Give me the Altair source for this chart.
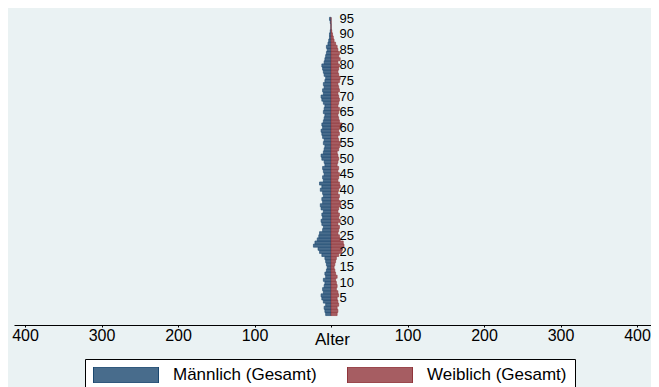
import altair as alt
import pandas as pd

# ---- data ----
ages = list(range(0, 96))
male = [7, 8, 9, 7, 10, 12, 13, 10, 11, 9,
        8, 10, 7, 8, 6, 5, 6, 7, 8, 12,
        15, 17, 23, 21, 18, 16, 15, 11, 10, 12,
        13, 11, 12, 10, 13, 14, 11, 12, 10, 11,
        14, 12, 15, 10, 11, 9, 10, 11, 8, 9,
        12, 13, 10, 9, 8, 10, 9, 11, 12, 13,
        11, 12, 10, 9, 8, 10, 9, 8, 10, 12,
        13, 10, 11, 9, 10, 8, 7, 9, 10, 11,
        12, 9, 8, 7, 6, 5, 6, 4, 3, 2,
        2, 1, 0, 0, 1, 2]
female = [8, 9, 8, 10, 9, 8, 10, 9, 7, 8,
          7, 6, 8, 6, 5, 4, 5, 6, 7, 10,
          14, 15, 17, 16, 12, 11, 9, 10, 11, 9,
          12, 10, 11, 9, 10, 13, 12, 10, 11, 9,
          10, 12, 11, 9, 10, 11, 9, 10, 8, 9,
          10, 9, 8, 10, 11, 12, 10, 9, 11, 10,
          12, 14, 11, 10, 9, 10, 11, 9, 10, 11,
          10, 9, 11, 10, 9, 11, 12, 10, 9, 10,
          11, 9, 12, 10, 11, 9, 8, 6, 4, 3,
          2, 1, 0, 0, 0, 0]
age_ticks = list(range(5, 100, 5))
x_ticks = [-400, -300, -200, -100, 0, 100, 200, 300, 400]
series = ["Männlich (Gesamt)", "Weiblich (Gesamt)"]
fill_colors = ["#486c8c", "#a65d62"]
line_colors = ["#1a476f", "#90353b"]

rows = []
for a, m, f in zip(ages, male, female):
    rows.append({"age": a, "value": -m, "sex": series[0]})
    rows.append({"age": a, "value": f, "sex": series[1]})
df = pd.DataFrame(rows)
labels_df = pd.DataFrame({"age": age_ticks,
                          "label": [str(a) for a in age_ticks]})

FONT = "Liberation Sans"
xscale = alt.Scale(domain=[-414.4, 418.3], nice=False, zero=False)
yscale = alt.Scale(domain=[-3.54, 98.5], nice=False, zero=False)

legend_kw = dict(
    title=None, orient="none", legendX=71, legendY=351,
    direction="horizontal",
    symbolType="M-1,-0.246L1,-0.246L1,0.246L-1,0.246Z",
    symbolSize=4225, symbolStrokeWidth=1, symbolOpacity=1,
    clipHeight=16,
    labelFontSize=17, labelFont=FONT, labelColor="black",
    labelOffset=14, labelLimit=400, columnPadding=30,
    padding=8, fillColor="white", strokeColor="black",
)

bars = alt.Chart(df).transform_calculate(
    lo="datum.age - 0.5", hi="datum.age + 0.5"
).mark_bar(strokeWidth=0.6, opacity=1).encode(
    x=alt.X("value:Q", scale=xscale,
            axis=alt.Axis(values=x_ticks,
                          labelExpr="datum.value == 0 ? '' : abs(datum.value)",
                          title="Alter", titleY=14.5, titleBaseline="middle",
                          titleX=318, titleAlign="center",
                          titleFontSize=17, titleFont=FONT, titleFontWeight="normal",
                          titleColor="black",
                          labelFontSize=16, labelFont=FONT, labelColor="black",
                          labelPadding=0.5, tickSize=2, tickColor="black",
                          domainColor="black", domainWidth=1, grid=False,
                          labelFlush=False, labelOverlap=False)),
    x2=alt.datum(0),
    y=alt.Y("lo:Q", scale=yscale, axis=None),
    y2="hi:Q",
    fill=alt.Fill("sex:N", scale=alt.Scale(domain=series, range=fill_colors),
                  legend=alt.Legend(**legend_kw)),
    stroke=alt.Stroke("sex:N", scale=alt.Scale(domain=series, range=line_colors),
                      legend=alt.Legend(**legend_kw)),
)

age_text = alt.Chart(labels_df).mark_text(
    align="left", baseline="middle", dx=8.5, fontSize=13, font=FONT, color="black"
).encode(
    x=alt.datum(0),
    y=alt.Y("age:Q", scale=yscale, axis=None),
    text="label:N",
)

chart = alt.layer(bars, age_text).properties(
    width=637, height=317,
    background="#eaf2f3",
    padding={"left": 6, "top": 0, "right": 0, "bottom": 70},
    autosize=alt.AutoSizeParams(type="none"),
).configure_view(stroke=None)

chart.save("out.html", embed_options={"renderer": "svg", "actions": False})
